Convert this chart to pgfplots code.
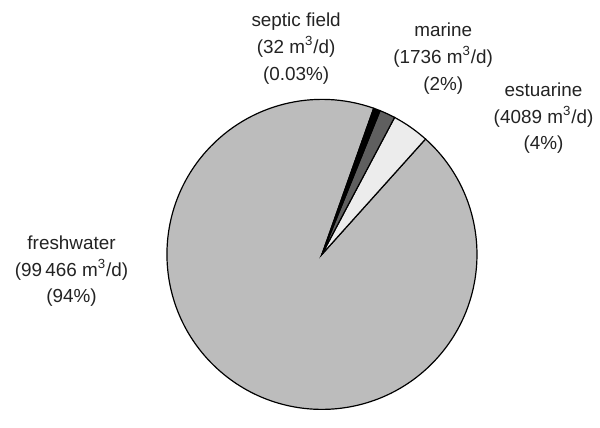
\documentclass[border=0pt]{standalone}
\usepackage{pgfplots}
\usepackage{pgfplotstable}
\pgfplotsset{compat=1.18}
\usepackage{fontspec}
\setmainfont{Liberation Sans}

\definecolor{fresh}{RGB}{188,188,188}
\definecolor{marine}{RGB}{95,95,95}
\definecolor{estu}{RGB}{236,236,236}
\definecolor{txt}{RGB}{35,35,35}

% daily flows (m^3/d)
\pgfplotstableread{
name value
septic 32
marine 1736
estuarine 4089
freshwater 99466
}\flows

\begin{document}
\begin{tikzpicture}
\pgfplotstablegetelem{0}{value}\of\flows \let\vS\pgfplotsretval
\pgfplotstablegetelem{1}{value}\of\flows \let\vM\pgfplotsretval
\pgfplotstablegetelem{2}{value}\of\flows \let\vE\pgfplotsretval
\pgfplotstablegetelem{3}{value}\of\flows \let\vF\pgfplotsretval
% pgfmath overflows past 16383, so use \fpeval
\edef\tot{\fpeval{\vS+\vM+\vE+\vF}}
\def\aA{70.5}
% septic slice is far too thin to see, so it gets a minimum width
\edef\aB{\fpeval{round(\aA-max(360*\vS/\tot,2.5),3)}}
\edef\aC{\fpeval{round(\aB-360*\vM/\tot,3)}}
\edef\aD{\fpeval{round(\aC-360*\vE/\tot,3)}}
\edef\aE{\fpeval{\aA-360}}
\def\R{78pt}
\begin{axis}[
    width=300pt, height=205pt, scale only axis,
    xmin=0, xmax=600, ymin=0, ymax=410,
    hide axis, clip=false,
]
\path (axis cs:0,0) rectangle (axis cs:600,410);
\coordinate (c) at (axis cs:324,154);
\filldraw[fill=fresh, draw=black, line width=0.6pt] (c) -- ++(\aD:\R) arc[start angle=\aD, end angle=\aE, radius=\R] -- cycle;
\filldraw[fill=estu, draw=black, line width=0.6pt] (c) -- ++(\aC:\R) arc[start angle=\aC, end angle=\aD, radius=\R] -- cycle;
\filldraw[fill=marine, draw=black, line width=0.6pt] (c) -- ++(\aB:\R) arc[start angle=\aB, end angle=\aC, radius=\R] -- cycle;
\filldraw[fill=black, draw=black, line width=0.6pt] (c) -- ++(\aA:\R) arc[start angle=\aA, end angle=\aB, radius=\R] -- cycle;

\begin{scope}[every node/.style={align=center, text=txt, font=\fontsize{9.5}{13.5}\selectfont}]
\node at (axis cs:298,361) {septic field\\(32 m\textsuperscript{3}/d)\\(0.03\%)};
\node at (axis cs:446,351) {marine\\(1736 m\textsuperscript{3}/d)\\(2\%)};
\node at (axis cs:547,291) {estuarine\\(4089 m\textsuperscript{3}/d)\\(4\%)};
\node at (axis cs:72,137) {freshwater\\(99\,466 m\textsuperscript{3}/d)\\(94\%)};
\end{scope}
\end{axis}
\end{tikzpicture}
\end{document}
